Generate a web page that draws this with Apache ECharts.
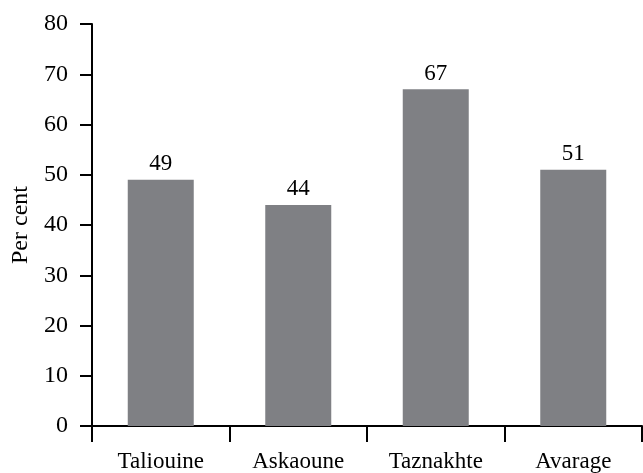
<!DOCTYPE html>
<html>
<head>
<meta charset="utf-8">
<script src="https://cdn.jsdelivr.net/npm/echarts@6/dist/echarts.min.js"></script>
<style>
  html, body { margin: 0; padding: 0; background: #fff; }
  #chart { width: 643px; height: 473px; }
</style>
</head>
<body>
<div id="chart"></div>
<script>
// Share of respondents per locality, in per cent
const categories = ['Taliouine', 'Askaoune', 'Taznakhte', 'Avarage'];
const values = [49, 44, 67, 51];
const yTicks = { min: 0, max: 80, interval: 10 };

const serif = '"Liberation Serif", "DejaVu Serif", serif';
const chart = echarts.init(document.getElementById('chart'));

chart.setOption({
  animation: false,
  backgroundColor: '#ffffff',
  grid: { left: 92, right: 1, top: 24, bottom: 47, containLabel: false, outerBoundsMode: 'none' },
  xAxis: {
    type: 'category',
    data: categories,
    boundaryGap: true,
    axisLine: { show: true, lineStyle: { color: '#000', width: 2 } },
    axisTick: { show: true, alignWithLabel: false, length: 16, lineStyle: { color: '#000', width: 2 } },
    axisLabel: { color: '#000', fontFamily: serif, fontSize: 23, margin: 24 },
    splitLine: { show: false }
  },
  yAxis: {
    type: 'value',
    min: yTicks.min,
    max: yTicks.max,
    interval: yTicks.interval,
    name: 'Per cent',
    nameLocation: 'middle',
    nameGap: 54,
    nameRotate: 90,
    nameTextStyle: { color: '#000', fontFamily: serif, fontSize: 24 },
    axisLine: { show: true, lineStyle: { color: '#000', width: 2 } },
    axisTick: { show: true, length: 12, lineStyle: { color: '#000', width: 2 } },
    axisLabel: { color: '#000', fontFamily: serif, fontSize: 24, margin: 24 },
    splitLine: { show: false }
  },
  series: [{
    type: 'bar',
    data: values,
    barWidth: '48%',
    itemStyle: { color: '#7f8084' },
    label: {
      show: true,
      position: 'top',
      distance: 4,
      color: '#000',
      fontFamily: serif,
      fontSize: 23
    }
  }]
});
</script>
</body>
</html>
